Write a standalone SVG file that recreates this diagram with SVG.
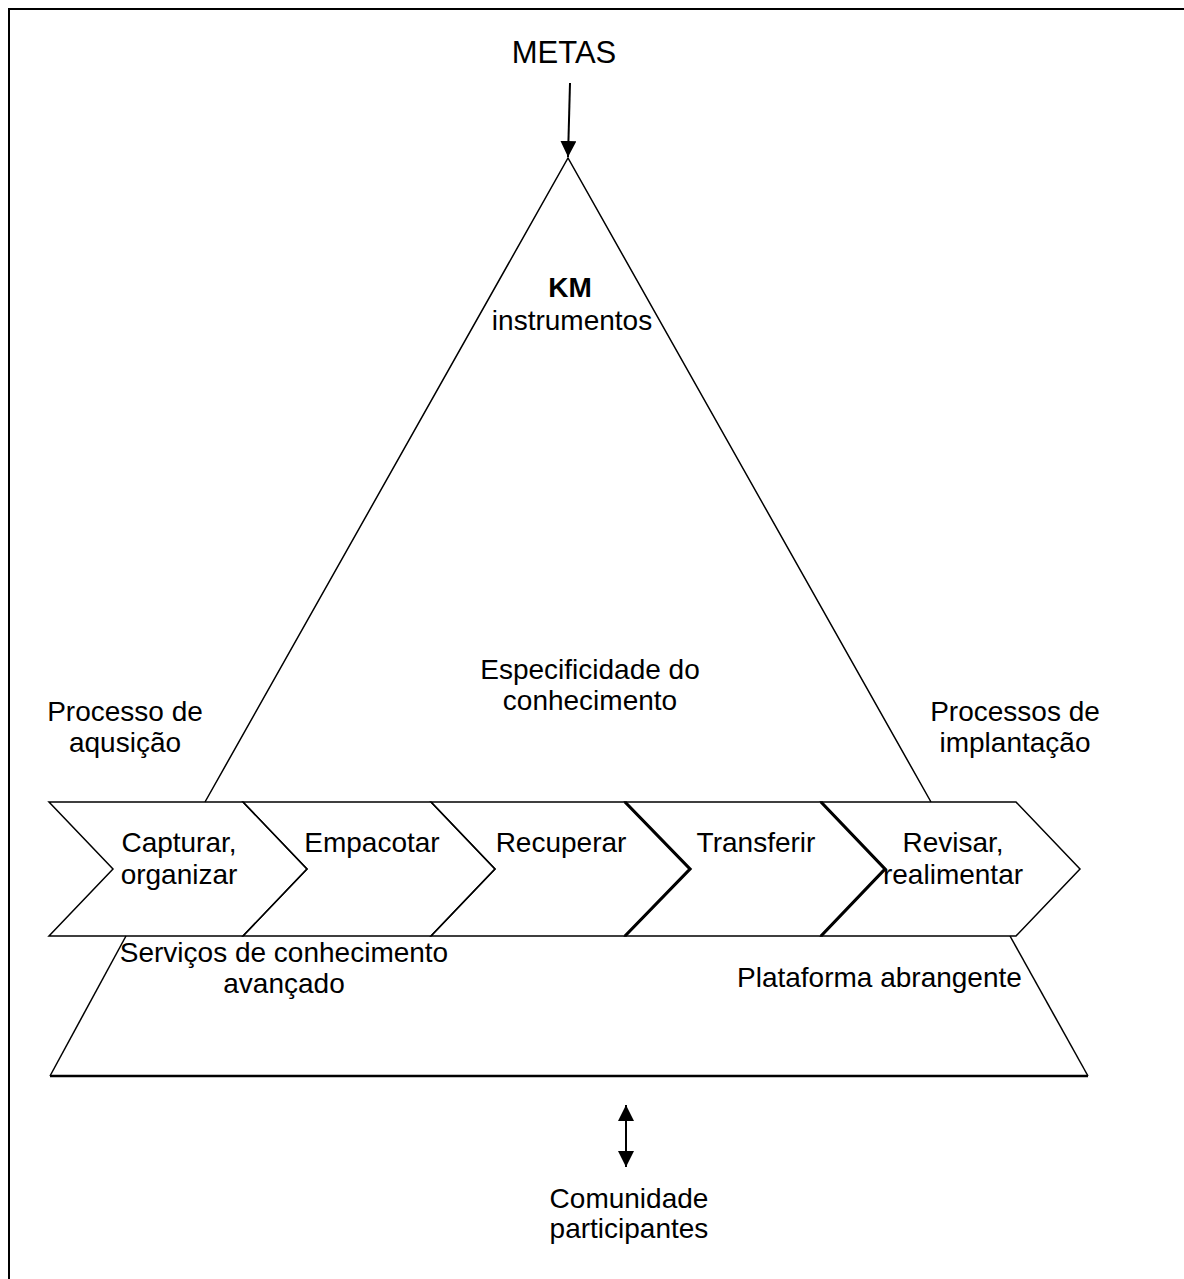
<svg xmlns="http://www.w3.org/2000/svg" width="1184" height="1279" viewBox="0 0 1184 1279">
<style>
text{font-family:"Liberation Sans",Arial,sans-serif;font-size:28px;fill:#000}
.c{text-anchor:middle}
.thin{fill:none;stroke:#000;stroke-width:1.5;stroke-linejoin:miter}
.thick{fill:none;stroke:#000;stroke-width:3.2}
</style>
<defs>
<marker id="ah" viewBox="0 0 16 16" refX="16" refY="8" markerWidth="16" markerHeight="16" markerUnits="userSpaceOnUse" orient="auto-start-reverse">
<path d="M0,0 L16,8 L0,16 Z" fill="#000"/>
</marker>
</defs>
<rect x="0" y="0" width="1184" height="1279" fill="#fff"/>
<rect id="frame" x="9" y="9" width="1200" height="1300" fill="none" stroke="#000" stroke-width="2"/>

<g id="metas"><text class="c" x="564" y="63" style="font-size:31px">METAS</text></g>

<g id="km-triangle">
<polyline class="thin" points="205,802 568,158 931,802"/>
<text class="c" x="570" y="297" font-weight="bold">KM</text>
<text class="c" x="572" y="330">instrumentos</text>
<text class="c" x="590" y="679">Especificidade do</text>
<text class="c" x="590" y="710">conhecimento</text>
</g>

<g id="aquisicao">
<text class="c" x="125" y="721">Processo de</text>
<text class="c" x="125" y="752">aqusição</text>
</g>
<g id="implantacao">
<text class="c" x="1015" y="721">Processos de</text>
<text class="c" x="1015" y="752">implantação</text>
</g>

<g id="capturar">
<polygon class="thin" points="49,802 243,802 307,869 243,936 49,936 113,869"/>
<text class="c" x="179" y="852">Capturar,</text>
<text class="c" x="179" y="884">organizar</text>
</g>
<g id="empacotar">
<polygon class="thin" points="243,802 431,802 495,869 431,936 243,936 307,869"/>
<text class="c" x="372" y="852">Empacotar</text>
</g>
<g id="recuperar">
<polygon class="thin" points="431,802 625,802 690,869 625,936 431,936 495,869"/>
<polyline class="thick" points="625,802 690,869 625,936"/>
<text class="c" x="561" y="852">Recuperar</text>
</g>
<g id="transferir">
<polygon class="thin" points="625,802 821,802 885,869 821,936 625,936 690,869"/>
<polyline class="thick" points="821,802 885,869 821,936"/>
<text class="c" x="756" y="852">Transferir</text>
</g>
<g id="revisar">
<polygon class="thin" points="821,802 1016,802 1080,869 1016,936 821,936 885,869"/>
<text class="c" x="953" y="852">Revisar,</text>
<text class="c" x="953" y="884">realimentar</text>
</g>

<g id="plataforma">
<polyline class="thin" points="126,936 50,1076"/>
<polyline class="thin" points="1010,936 1088,1076"/>
<line x1="50" y1="1076" x2="1088" y2="1076" stroke="#000" stroke-width="2.5"/>
<text class="c" x="284" y="962">Serviços de conhecimento</text>
<text class="c" x="284" y="993">avançado</text>
<text x="737" y="987">Plataforma abrangente</text>
</g>

<g id="comunidade">
<text class="c" x="629" y="1208">Comunidade</text>
<text class="c" x="629" y="1238">participantes</text>
</g>

<g id="connectors">
<line x1="570" y1="83" x2="568" y2="157" stroke="#000" stroke-width="2" marker-end="url(#ah)"/>
<line x1="626" y1="1105" x2="626" y2="1167" stroke="#000" stroke-width="2" marker-start="url(#ah)" marker-end="url(#ah)"/>
</g>
</svg>
